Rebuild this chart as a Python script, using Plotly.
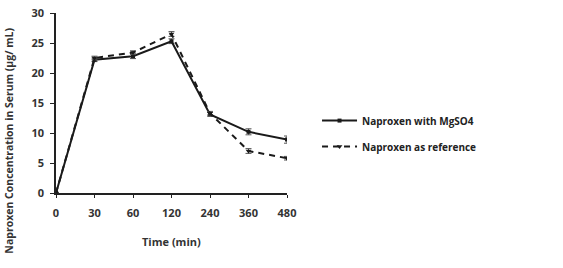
import plotly.graph_objects as go

time_labels = ["0", "30", "60", "120", "240", "360", "480"]
mgso4 = [0, 22.2, 22.8, 25.3, 13.1, 10.2, 8.9]
mgso4_err = [0, 0.3, 0.4, 0.4, 0.3, 0.5, 0.6]
reference = [0, 22.5, 23.4, 26.5, 13.3, 7.0, 5.8]
reference_err = [0, 0.3, 0.3, 0.4, 0.3, 0.4, 0.3]
y_ticks = [0, 5, 10, 15, 20, 25, 30]

idx = list(range(len(time_labels)))
FF = "Open Sans"
TXT = "#333333"

fig = go.Figure()
fig.add_trace(go.Scatter(
    x=idx, y=mgso4, name="<b>Naproxen with MgSO4</b>", mode="lines+markers",
    legendgroup="a",
    line=dict(color="#1a1a1a", width=2),
    marker=dict(symbol="square", size=4, color="#1a1a1a"),
    error_y=dict(type="data", array=mgso4_err, color="#555555", thickness=1, width=3),
))
fig.add_trace(go.Scatter(
    x=idx, y=reference, name="<b>Naproxen as reference</b>", mode="lines+markers",
    legendgroup="b",
    line=dict(color="#1a1a1a", width=2, dash="6px,5px"),
    marker=dict(symbol="triangle-down", size=5, color="#1a1a1a"),
    error_y=dict(type="data", array=reference_err, color="#555555", thickness=1, width=3),
))

fig.add_annotation(text="<b>Naproxen Concentration in Serum (µg/ mL)</b>",
                   xref="paper", yref="paper", x=-0.205, y=0.289,
                   xanchor="center", yanchor="middle", textangle=-90, showarrow=False,
                   font=dict(family=FF, size=10.5, color=TXT))
fig.add_annotation(text="<b>Time (min)</b>",
                   xref="paper", yref="paper", x=0.5, y=-0.272,
                   xanchor="center", yanchor="middle", showarrow=False,
                   font=dict(family=FF, size=11, color=TXT))

fig.update_layout(
    width=563, height=268,
    margin=dict(l=56, r=276, t=13, b=75),
    paper_bgcolor="white", plot_bgcolor="white",
    font=dict(family=FF, size=10, color=TXT),
    showlegend=True,
    legend=dict(x=1.13, y=0.33, xanchor="left", yanchor="middle",
                font=dict(family=FF, size=10, color="#222222"),
                itemwidth=35, tracegroupgap=7, bgcolor="rgba(0,0,0,0)"),
    xaxis=dict(
        range=[0, 6], tickmode="array", tickvals=idx, ticktext=[f"<b>{t}</b>" for t in time_labels],
        showline=True, linecolor="#222222", linewidth=1.5, showgrid=False, zeroline=False,
        ticks="outside", ticklen=3, tickcolor="#222222", automargin=False,
        ticklabelstandoff=6,
        tickfont=dict(family=FF, size=11, color=TXT),
    ),
    yaxis=dict(
        range=[0, 30], tickvals=y_ticks,
        ticktext=[f"<b>{v}</b>" for v in y_ticks],
        showline=True, linecolor="#222222", linewidth=1.5, showgrid=False, zeroline=False,
        ticks="outside", ticklen=4, tickcolor="#222222", automargin=False,
        ticklabelstandoff=4,
        tickfont=dict(family=FF, size=11, color=TXT),
    ),
)
fig.write_html("out.html", config={"displayModeBar": False},
               post_script="document.body.style.margin='0';")
